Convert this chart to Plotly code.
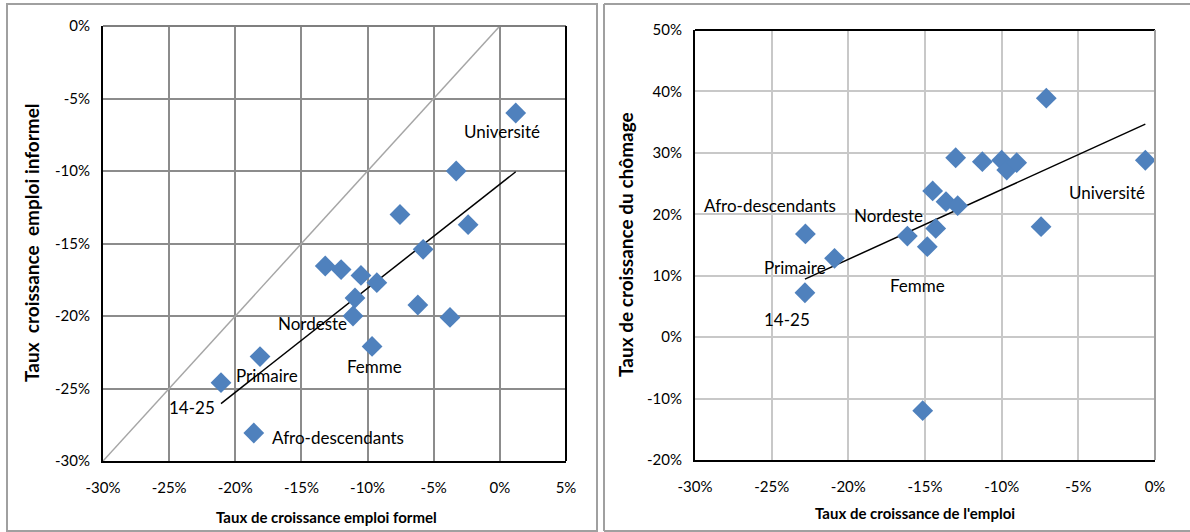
import numpy as np
import plotly.graph_objects as go

# ---- Left chart: formal vs informal employment growth (%)
left_x = [1.2, -3.3, -2.4, -7.55, -5.8, -13.2, -12.0, -10.5, -9.3, -10.95, -11.1, -6.2, -3.77, -9.66, -18.13, -21.08, -18.6]
left_y = [-6.0, -10.0, -13.7, -13.0, -15.4, -16.55, -16.8, -17.2, -17.7, -18.76, -20.0, -19.24, -20.1, -22.1, -22.8, -24.6, -28.07]
left_labels = ["Université", "Nordeste", "Femme", "Primaire", "14-25", "Afro-descendants"]
left_label_x = [0.16, -14.2, -9.48, -17.6, -23.3, -12.27]
left_label_y = [-7.31, -20.5, -23.5, -24.1, -26.3, -28.4]

# ---- Right chart: employment growth vs unemployment growth (%)
right_x = [-7.09, -13.0, -11.26, -10.0, -9.67, -9.02, -0.63, -14.5, -13.63, -12.87, -14.3, -16.15, -14.85, -7.43, -22.8, -20.9, -22.83, -15.15]
right_y = [38.9, 29.2, 28.56, 28.8, 27.2, 28.4, 28.8, 23.8, 22.05, 21.4, 17.7, 16.46, 14.72, 17.98, 16.8, 12.83, 7.23, -11.97]
right_labels = ["Afro-descendants", "Nordeste", "Université", "Primaire", "Femme", "14-25"]
right_label_x = [-25.08, -17.41, -3.13, -23.46, -15.47, -24.0]
right_label_y = [21.5, 19.77, 23.58, 11.3, 8.38, 2.95]

# tick labels
left_xticks = [-30, -25, -20, -15, -10, -5, 0, 5]
left_yticks = [-30, -25, -20, -15, -10, -5, 0]
right_xticks = [-30, -25, -20, -15, -10, -5, 0]
right_yticks = [-20, -10, 0, 10, 20, 30, 40, 50]
def tick_text(vals): return [f"{v}%" for v in vals]

diag = [-30, 0]

BLUE = "#4F81BD"
FONT = "Lato"

fig = go.Figure()

# diagonal 45° reference line (left)
fig.add_trace(go.Scatter(x=diag, y=diag, mode="lines", line=dict(color="#a6a6a6", width=1.5),
                         xaxis="x", yaxis="y", hoverinfo="skip"))

# trend lines (least squares)
for xs, ys, xa, ya in [(left_x, left_y, "x", "y"), (right_x, right_y, "x2", "y2")]:
    xs_a = np.array(xs); ys_a = np.array(ys)
    b, a = np.polyfit(xs_a, ys_a, 1)
    tx = np.array([xs_a.min(), xs_a.max()])
    fig.add_trace(go.Scatter(x=tx, y=a + b * tx, mode="lines", line=dict(color="black", width=1.5),
                             xaxis=xa, yaxis=ya, hoverinfo="skip"))

fig.add_trace(go.Scatter(x=left_x, y=left_y, mode="markers",
                         marker=dict(symbol="diamond", size=16, color=BLUE),
                         xaxis="x", yaxis="y"))
fig.add_trace(go.Scatter(x=right_x, y=right_y, mode="markers",
                         marker=dict(symbol="diamond", size=16, color=BLUE),
                         xaxis="x2", yaxis="y2"))

anns = []
for t, x, y in zip(left_labels, left_label_x, left_label_y):
    anns.append(dict(text=t, x=x, y=y, xref="x", yref="y", showarrow=False,
                     xanchor="center", yanchor="middle",
                     font=dict(family=FONT, size=17, color="black")))
for t, x, y in zip(right_labels, right_label_x, right_label_y):
    anns.append(dict(text=t, x=x, y=y, xref="x2", yref="y2", showarrow=False,
                     xanchor="center", yanchor="middle",
                     font=dict(family=FONT, size=17, color="black")))

W, H = 1190, 532
def px(v): return v / W
def py(v): return 1 - v / H

# axis titles
titles = [
    ("<b>Taux de croissance emploi formel</b>", 326, 517, 0, 15),
    ("<b>Taux  croissance  emploi informel</b>", 31, 243, -90, 19),
    ("<b>Taux de croissance de l'emploi</b>", 915, 513, 0, 15),
    ("<b>Taux de croissance du chômage</b>", 625, 245, -90, 19),
]
for t, x, y, ang, fs in titles:
    anns.append(dict(text=t, x=px(x), y=py(y), xref="paper", yref="paper", showarrow=False,
                     xanchor="center", yanchor="middle", textangle=ang,
                     font=dict(family=FONT, size=fs, color="black")))

shapes = [
    # panel frames
    dict(type="rect", xref="paper", yref="paper", x0=px(7), x1=px(597), y0=py(531), y1=py(4),
         line=dict(color="#a0a0a0", width=2)),
    dict(type="line", xref="paper", yref="paper", x0=px(604), x1=px(1190), y0=py(4), y1=py(4),
         line=dict(color="#a0a0a0", width=2)),
    dict(type="line", xref="paper", yref="paper", x0=px(604), x1=px(1190), y0=py(531), y1=py(531),
         line=dict(color="#a0a0a0", width=2)),
    dict(type="line", xref="paper", yref="paper", x0=px(604), x1=px(604), y0=py(531), y1=py(4),
         line=dict(color="#a0a0a0", width=2)),
    # left plot area border
    dict(type="line", xref="x domain", yref="y domain", x0=0, x1=1, y0=1, y1=1, line=dict(color="#7f7f7f", width=2)),
    dict(type="line", xref="x domain", yref="y domain", x0=1, x1=1, y0=0, y1=1, line=dict(color="black", width=2)),
    # right plot area border
    dict(type="line", xref="x2 domain", yref="y2 domain", x0=0, x1=1, y0=1, y1=1, line=dict(color="black", width=2)),
    dict(type="line", xref="x2 domain", yref="y2 domain", x0=1, x1=1, y0=0, y1=1, line=dict(color="#a0a0a0", width=2)),
]

tickfont = dict(family=FONT, size=15, color="black")
common = dict(showline=True, linecolor="black", linewidth=2, zeroline=False, automargin=False,
              tickfont=tickfont, ticks="", fixedrange=True, tickmode="array")

fig.update_layout(
    template="none",
    width=W, height=H, margin=dict(l=0, r=0, t=0, b=0, pad=0), autosize=False,
    paper_bgcolor="white", plot_bgcolor="white", showlegend=False,
    xaxis=dict(domain=[px(103), px(566)], range=[-30, 5], tickvals=left_xticks, ticktext=tick_text(left_xticks),
               anchor="y", gridcolor="#8c8c8c", gridwidth=1.5, ticklabelstandoff=12, **common),
    yaxis=dict(domain=[py(461), py(26)], range=[-30, 0], tickvals=left_yticks, ticktext=tick_text(left_yticks),
               anchor="x", gridcolor="#8c8c8c", gridwidth=1.5, ticklabelstandoff=8, **common),
    xaxis2=dict(domain=[px(695), px(1155)], range=[-30, 0], tickvals=right_xticks, ticktext=tick_text(right_xticks),
                anchor="y2", gridcolor="#c8c8c8", gridwidth=1.5, ticklabelstandoff=12, **common),
    yaxis2=dict(domain=[py(460), py(30)], range=[-20, 50], tickvals=right_yticks, ticktext=tick_text(right_yticks),
                anchor="x2", gridcolor="#c8c8c8", gridwidth=1.5, ticklabelstandoff=8, **common),
    annotations=anns, shapes=shapes,
)

fig.write_html("out.html", config={"displayModeBar": False},
               post_script="document.body.style.margin='0px'; document.body.style.overflow='hidden';")
